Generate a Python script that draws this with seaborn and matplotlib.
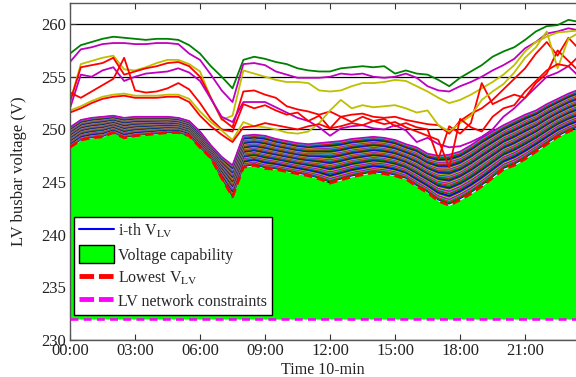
import numpy as np
import pandas as pd
import matplotlib
matplotlib.use("Agg")
import matplotlib.pyplot as plt
import seaborn as sns
from matplotlib.lines import Line2D
from matplotlib.patches import Patch

# ---------------- data (30-min samples) ----------------
hours = np.arange(0, 24, 0.5)

lowest_v = [248.3, 249.0, 249.2, 249.3, 249.7, 249.2, 249.4, 249.5, 249.6, 249.7,
            249.7, 249.4, 248.3, 247.3, 245.4, 243.6, 246.4, 246.6, 246.3, 246.2,
            246.0, 245.8, 245.6, 245.3, 244.9, 245.2, 245.5, 245.7, 245.9, 245.8,
            245.6, 245.3, 244.6, 244.0, 243.2, 242.8, 243.3, 243.9, 244.6, 245.4,
            246.2, 246.6, 247.2, 247.9, 248.6, 249.3, 249.8, 250.2]

band_top_v = [250.2, 250.9, 251.1, 251.2, 251.3, 251.1, 251.2, 251.2, 251.2, 251.2,
              251.1, 250.8, 249.8, 248.5, 247.4, 246.6, 249.4, 249.5, 249.4, 249.1,
              248.9, 248.7, 248.6, 248.7, 248.8, 248.9, 249.1, 249.2, 249.3, 249.2,
              249.0, 248.6, 248.3, 247.7, 247.5, 247.6, 247.9, 248.5, 249.2, 249.8,
              250.4, 250.9, 251.4, 251.8, 252.4, 252.9, 253.4, 253.8]

# relative position of each i-th bus inside the dense band (0 = lowest, 1 = top)
band_frac = [0.03, 0.05, 0.08, 0.10, 0.12, 0.15, 0.17, 0.19, 0.22, 0.24,
             0.26, 0.28, 0.31, 0.33, 0.35, 0.37, 0.40, 0.42, 0.44, 0.46,
             0.48, 0.50, 0.52, 0.54, 0.56, 0.58, 0.60, 0.62, 0.64, 0.66,
             0.68, 0.70, 0.72, 0.74, 0.76, 0.78, 0.80, 0.82, 0.84, 0.86,
             0.88, 0.90, 0.92, 0.94, 0.96, 0.98, 1.00]

green_v = [257.2, 258.0, 258.3, 258.6, 258.8, 258.7, 258.6, 258.5, 258.6, 258.6,
           258.5, 258.0, 257.2, 256.0, 255.0, 253.9, 256.6, 256.9, 256.7, 256.4,
           256.2, 255.8, 255.6, 255.5, 255.5, 255.8, 255.9, 256.0, 255.9, 256.0,
           255.3, 255.6, 255.3, 255.2, 254.7, 254.1, 254.9, 255.5, 256.1, 256.9,
           257.4, 257.8, 258.5, 259.3, 259.8, 259.9, 260.4, 260.2]
magenta1_v = [256.4, 257.6, 257.8, 258.1, 258.2, 258.2, 258.1, 258.1, 258.2, 258.2,
              258.1, 257.2, 256.6, 255.2, 253.7, 252.6, 256.2, 256.3, 256.1, 255.5,
              255.2, 254.9, 254.9, 254.9, 255.0, 255.3, 255.2, 255.3, 255.0, 254.9,
              255.0, 255.3, 254.9, 254.1, 253.7, 253.6, 254.1, 254.5, 255.0, 255.6,
              256.1, 256.7, 257.7, 258.3, 259.1, 259.3, 259.6, 259.4]
olive1_v = [252.6, 256.2, 256.5, 256.8, 257.0, 255.7, 255.6, 255.9, 256.3, 256.6,
            256.6, 256.2, 255.5, 253.0, 250.9, 251.3, 255.6, 255.3, 255.0, 254.7,
            254.5, 254.5, 254.4, 253.7, 253.6, 253.7, 254.1, 254.4, 254.4, 254.5,
            254.7, 254.6, 254.1, 253.6, 253.0, 252.5, 252.8, 253.3, 253.9, 254.5,
            255.2, 256.1, 257.4, 258.3, 258.8, 259.2, 259.3, 259.4]
red1_v = [252.6, 255.9, 256.1, 256.3, 256.8, 255.2, 255.5, 255.8, 256.0, 256.3,
          256.4, 256.0, 255.0, 253.0, 251.0, 250.2, 253.6, 253.7, 253.3, 253.0,
          252.2, 251.9, 251.7, 251.4, 251.7, 251.2, 251.4, 251.5, 251.2, 251.1,
          251.2, 250.9, 250.7, 250.5, 250.4, 249.6, 250.8, 251.5, 252.0, 252.8,
          253.8, 254.8, 255.8, 257.2, 258.3, 257.0, 258.7, 257.6]
magenta2_v = [252.0, 255.2, 255.0, 255.6, 255.9, 254.6, 255.0, 255.3, 255.4, 255.5,
              255.8, 255.4, 254.6, 252.9, 251.2, 250.7, 252.6, 252.6, 252.6, 252.1,
              251.6, 251.1, 250.8, 250.2, 249.4, 250.1, 250.3, 250.4, 250.1, 250.0,
              250.4, 249.9, 248.8, 249.2, 248.6, 248.3, 248.4, 248.8, 249.3, 250.0,
              251.2, 252.0, 253.0, 254.0, 255.0, 255.4, 256.0, 255.0]
red2_v = [253.5, 253.0, 253.6, 254.2, 254.8, 256.8, 253.7, 253.5, 253.6, 253.9,
          254.4, 253.8, 252.5, 251.0, 250.0, 249.8, 252.4, 252.0, 252.3, 251.8,
          251.4, 251.6, 250.8, 251.3, 250.1, 251.2, 250.7, 251.2, 250.8, 251.0,
          250.3, 250.6, 250.2, 250.0, 247.2, 250.3, 249.6, 250.6, 254.4, 252.4,
          252.9, 253.3, 253.0, 254.4, 255.3, 257.5, 256.5, 255.5]
olive2_v = [251.8, 252.2, 252.7, 253.1, 253.3, 253.4, 253.2, 253.2, 253.2, 253.3,
            253.3, 252.9, 251.7, 250.7, 249.9, 249.0, 250.7, 250.3, 250.2, 250.0,
            249.7, 249.6, 249.8, 250.6, 251.8, 252.8, 252.0, 252.3, 252.1, 252.2,
            252.3, 252.0, 251.6, 251.8, 250.4, 249.8, 250.6, 251.3, 252.8, 253.6,
            254.3, 255.4, 256.8, 257.8, 259.3, 255.8, 258.6, 259.2]
red3_v = [251.6, 252.0, 252.5, 252.9, 253.1, 253.2, 253.0, 253.0, 253.0, 253.1,
          253.1, 252.6, 251.3, 250.3, 249.5, 248.8, 250.2, 250.3, 250.6, 250.4,
          250.2, 250.0, 250.3, 250.5, 250.1, 250.3, 250.6, 250.4, 250.8, 250.5,
          250.7, 250.2, 249.8, 249.4, 249.0, 246.4, 251.0, 250.2, 249.8, 251.2,
          252.0, 252.3, 253.6, 254.6, 255.6, 256.2, 256.0, 257.0]

constraint_v = 232.0
tick_hours = [0, 3, 6, 9, 12, 15, 18, 21]
tick_labels = ["00:00", "03:00", "06:00", "09:00", "12:00", "15:00", "18:00", "21:00"]

# MATLAB classic colour order
mat_colors = [(0, 0, 1), (0, 0.5, 0), (1, 0, 0), (0, 0.75, 0.75),
              (0.75, 0, 0.75), (0.75, 0.75, 0), (0.25, 0.25, 0.25)]

# ---------------- build long-form table ----------------
low = np.array(lowest_v)
top = np.array(band_top_v)
rows = []
palette = {}
for i, f in enumerate(band_frac):
    name = f"bus{i:02d}"
    vals = low + f * (top - low)
    rows.append(pd.DataFrame({"t": hours, "v": vals, "line": name}))
    palette[name] = mat_colors[i % len(mat_colors)]
band_df = pd.concat(rows, ignore_index=True)

rows = []
upper = [("g_up", green_v, mat_colors[1]), ("m_up1", magenta1_v, mat_colors[4]),
         ("y_up1", olive1_v, mat_colors[5]), ("r_up1", red1_v, mat_colors[2]),
         ("m_up2", magenta2_v, mat_colors[4]), ("r_up2", red2_v, mat_colors[2]),
         ("y_up2", olive2_v, mat_colors[5]), ("r_up3", red3_v, mat_colors[2])]
for name, vals, col in upper:
    rows.append(pd.DataFrame({"t": hours, "v": vals, "line": name}))
    palette[name] = col
upper_df = pd.concat(rows, ignore_index=True)

# ---------------- figure ----------------
sns.set_theme(style="white")
plt.rcParams["font.family"] = ["Liberation Serif", "DejaVu Serif"]
plt.rcParams["mathtext.fontset"] = "stix"

fig = plt.figure(figsize=(5.76, 3.77), dpi=100)
ax = fig.add_axes([0.1215, 0.098, 0.8785, 0.894])
ax.set_axisbelow(True)
ax.yaxis.grid(True, color="black", linewidth=0.9)
ax.xaxis.grid(False)

ax.fill_between(hours, constraint_v, low, color="#00ff00", linewidth=0, zorder=1)

sns.lineplot(data=band_df, x="t", y="v", hue="line",
             palette={k: palette[k] for k in band_df["line"].unique()},
             estimator=None, legend=False, linewidth=1.2, ax=ax, zorder=2)
sns.lineplot(data=upper_df, x="t", y="v", hue="line",
             palette={k: palette[k] for k in upper_df["line"].unique()},
             estimator=None, legend=False, linewidth=1.3, ax=ax, zorder=2)

ax.plot(hours, low, color="red", linestyle=(0, (3, 1.8)), linewidth=2.0, zorder=3)
ax.axhline(constraint_v, color="#ff00ff", linestyle=(0, (3, 2)), linewidth=1.9, zorder=3)

ax.set_xlim(0, 23.35)
ax.set_ylim(230, 262)
ax.set_xticks(tick_hours)
ax.set_xticklabels(tick_labels)
ax.set_yticks([230, 235, 240, 245, 250, 255, 260])
ax.tick_params(direction="in", length=4, width=0.8, labelsize=12, colors="#333333",
               top=True, bottom=True, left=True, right=False, pad=2)
ax.tick_params(axis="y", pad=3)
for lab in ax.get_xticklabels() + ax.get_yticklabels():
    lab.set_color("#222222")
for side in ["top", "left", "bottom"]:
    ax.spines[side].set_color("#555555")
    ax.spines[side].set_linewidth(1.0)
ax.spines["right"].set_visible(False)

ax.set_xlabel("Time 10-min", fontsize=11.5, labelpad=2, color="#222222")
ax.set_ylabel("LV busbar voltage (V)", fontsize=12, labelpad=10, color="#222222")

handles = [Line2D([], [], color="blue", linewidth=1.5),
           Patch(facecolor="#00ff00", edgecolor="black", linewidth=1.0),
           Line2D([], [], color="red", linestyle=(0, (3, 1)), linewidth=3.5),
           Line2D([], [], color="#ff00ff", linestyle=(0, (3, 1)), linewidth=3.5)]
labels = [r"i-th V$_{\mathrm{LV}}$", "Voltage capability", r"Lowest V$_{\mathrm{LV}}$",
          "LV network constraints"]
leg = ax.legend(handles, labels, loc="lower left", bbox_to_anchor=(0.008, 0.074),
                borderaxespad=0, frameon=True, fancybox=False, framealpha=1,
                edgecolor="black", fontsize=11.5, handlelength=2.2, handleheight=1.4,
                handletextpad=0.25, labelspacing=0.3, borderpad=0.3)
leg.get_frame().set_linewidth(1.0)
leg.set_zorder(5)

fig.savefig("out.png", dpi=100)
